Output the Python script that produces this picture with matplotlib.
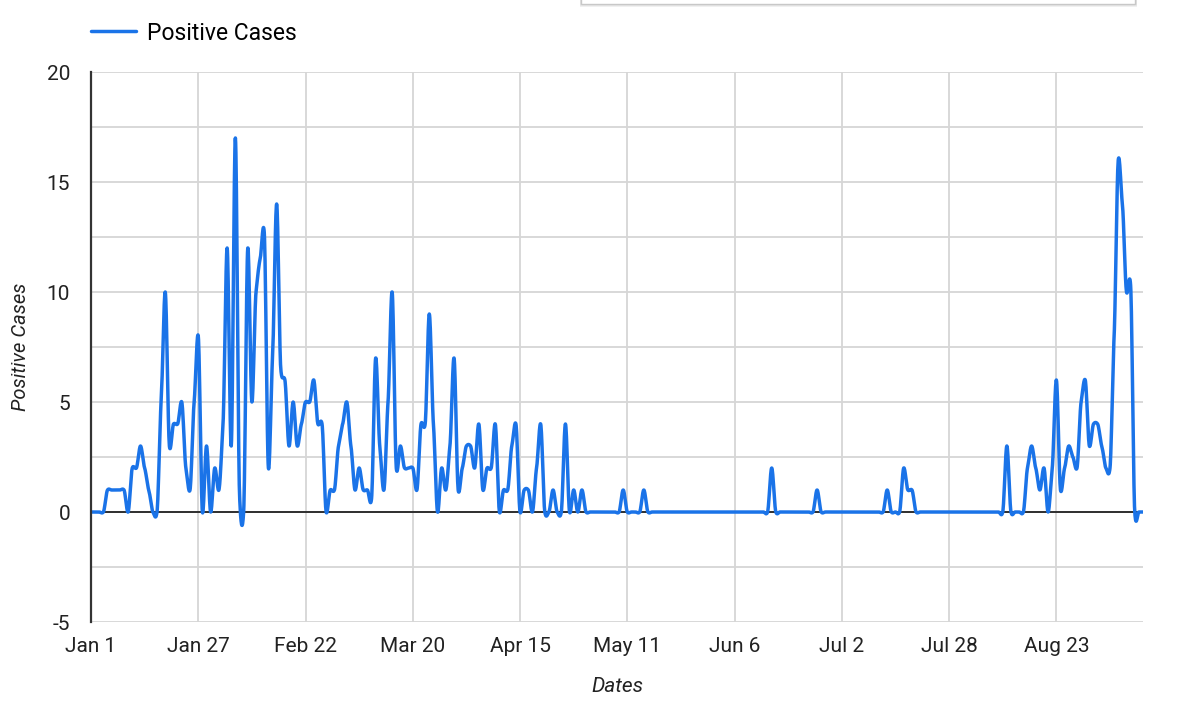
import numpy as np
import pandas as pd
import matplotlib
matplotlib.use("Agg")
import matplotlib.pyplot as plt
import matplotlib.dates as mdates
from matplotlib.patches import Rectangle

plt.rcParams['font.family'] = ['Roboto', 'DejaVu Sans']
plt.rcParams['axes.unicode_minus'] = False

# daily positive cases from Jan 1
start_date = "2021-01-01"
cases = [
    0, 0, 0, 0, 1, 1, 1, 1, 1, 0,          # Jan 1-10
    2, 2, 3, 2, 1, 0, 0, 5, 10, 3,         # Jan 11-20
    4, 4, 5, 2, 1, 5, 8, 0, 3, 0,          # Jan 21-30
    2, 1, 4, 12, 3, 17, 0.8, 0, 12, 5,     # Jan 31-Feb 9
    10, 11.5, 12.7, 2, 7, 14, 6.5, 6, 3, 5,  # Feb 10-19
    3, 4, 5, 5, 6, 4, 4, 0, 1, 1,          # Feb 20-Mar 1
    3, 4, 5, 3, 1, 2, 1, 1, 0.6, 7,        # Mar 2-11
    3, 1, 5, 10, 2, 3, 2, 2, 2, 1,         # Mar 12-21
    4, 4, 9, 4, 0, 2, 1, 3, 7, 1,          # Mar 22-31
    2, 3, 3, 2, 4, 1, 2, 2, 4, 0,          # Apr 1-10
    1, 1, 3, 4, 0, 1, 1, 0, 2, 4,          # Apr 11-20
    0, 0, 1, 0, 0, 4, 0, 1, 0, 1,          # Apr 21-30
    0, 0, 0, 0, 0, 0, 0, 0, 0, 1,          # May 1-10
    0, 0, 0, 0, 1, 0, 0, 0, 0, 0,          # May 11-20
    0, 0, 0, 0, 0, 0, 0, 0, 0, 0,          # May 21-30
    0, 0, 0, 0, 0, 0, 0, 0, 0, 0,          # May 31-Jun 9
    0, 0, 0, 0, 0, 2, 0, 0, 0, 0,          # Jun 10-19
    0, 0, 0, 0, 0, 0, 1, 0, 0, 0,          # Jun 20-29
    0, 0, 0, 0, 0, 0, 0, 0, 0, 0,          # Jun 30-Jul 9
    0, 0, 0, 1, 0, 0, 0, 2, 1, 1,          # Jul 10-19
    0, 0, 0, 0, 0, 0, 0, 0, 0, 0,          # Jul 20-29
    0, 0, 0, 0, 0, 0, 0, 0, 0, 0,          # Jul 30-Aug 8
    0, 0, 3, 0, 0, 0, 0, 2, 3, 2,          # Aug 9-18
    1, 2, 0, 2, 6, 1, 2, 3, 2.5, 2,        # Aug 19-28
    5, 6, 3, 4, 4, 3, 2, 2, 8, 16,         # Aug 29-Sep 7
    14, 10, 10.3, 0, 0, 0,                 # Sep 8-13
]
dates = pd.date_range(start_date, periods=len(cases), freq="D")
tick_dates = pd.date_range(start_date, periods=10, freq="26D")
y_ticks = [-5, 0, 5, 10, 15, 20]

blue = "#1a73e8"


def smooth(x, y, n=16, k=0.55):
    # cardinal spline, roughly like the "function" curve type
    x = np.asarray(x, float)
    y = np.asarray(y, float)
    xp = np.concatenate([[x[0]], x, [x[-1]]])
    yp = np.concatenate([[y[0]], y, [y[-1]]])
    xs, ys = [], []
    t = np.linspace(0, 1, n, endpoint=False)
    h00 = 2 * t**3 - 3 * t**2 + 1
    h10 = t**3 - 2 * t**2 + t
    h01 = -2 * t**3 + 3 * t**2
    h11 = t**3 - t**2
    for i in range(1, len(xp) - 2):
        m0 = k * (yp[i + 1] - yp[i - 1]) / 2
        m1 = k * (yp[i + 2] - yp[i]) / 2
        xs.append(xp[i] + t * (xp[i + 1] - xp[i]))
        ys.append(h00 * yp[i] + h10 * m0 + h01 * yp[i + 1] + h11 * m1)
    xs.append([x[-1]])
    ys.append([y[-1]])
    return np.concatenate(xs), np.concatenate(ys)


fig = plt.figure(figsize=(12, 7.24), dpi=100)
ax = fig.add_axes([91 / 1200, 1 - 622 / 724, (1143 - 91) / 1200, (622 - 72) / 724])

xnum = mdates.date2num(dates)
sx, sy = smooth(xnum, cases)
ax.plot(sx, sy, color=blue, lw=2.5, label="Positive Cases", zorder=3,
        solid_capstyle="round", solid_joinstyle="round")

ax.set_xlim(mdates.date2num(pd.Timestamp(start_date)), xnum[-1])
ax.set_ylim(-5, 20)
ax.set_yticks(y_ticks)
ax.set_yticks(np.arange(-2.5, 20, 5), minor=True)
ax.set_xticks(mdates.date2num(tick_dates))
ax.set_xticklabels([d.strftime("%b ") + str(d.day) for d in tick_dates])

ax.grid(True, which="major", color="#d6d6d6", lw=1.3)
ax.grid(True, which="minor", axis="y", color="#d6d6d6", lw=1.3)
ax.axhline(0, color="#222222", lw=1.3, zorder=2)
ax.set_axisbelow(True)

for s in ["top", "right", "bottom"]:
    ax.spines[s].set_visible(False)
ax.spines["left"].set_color("#333333")
ax.spines["left"].set_linewidth(1.6)
ax.spines["left"].set_zorder(4)

ax.tick_params(axis="both", which="both", length=0, labelsize=15, colors="#222222")
ax.tick_params(axis="x", pad=11)
ax.tick_params(axis="y", pad=15)

ax.set_xlabel("Dates", fontsize=15, style="italic", color="#222222", labelpad=15)
ax.set_ylabel("Positive Cases", fontsize=14.5, style="italic", color="#222222", labelpad=12)

fig.legend(loc="center left", bbox_to_anchor=(91 / 1200, 1 - 33 / 724), frameon=False,
           fontsize=16.5, handlelength=1.95, handletextpad=0.5, borderpad=0, borderaxespad=0)

# edge of a card peeking in at the top right
for k, a in enumerate([0.05, 0.08, 0.12]):
    fig.patches.append(Rectangle((580 / 1200, (724 - 5 - k) / 724), (1137 - 580) / 1200, 0.05,
                                 transform=fig.transFigure, facecolor="#888888", alpha=a,
                                 edgecolor="none", zorder=0))
fig.patches.append(Rectangle((581 / 1200, (724 - 4) / 724), (1135 - 581) / 1200, 0.05,
                             transform=fig.transFigure, facecolor="white",
                             edgecolor="#c8c8c8", lw=1, zorder=1))

fig.savefig("out.png", dpi=100, facecolor="white")
